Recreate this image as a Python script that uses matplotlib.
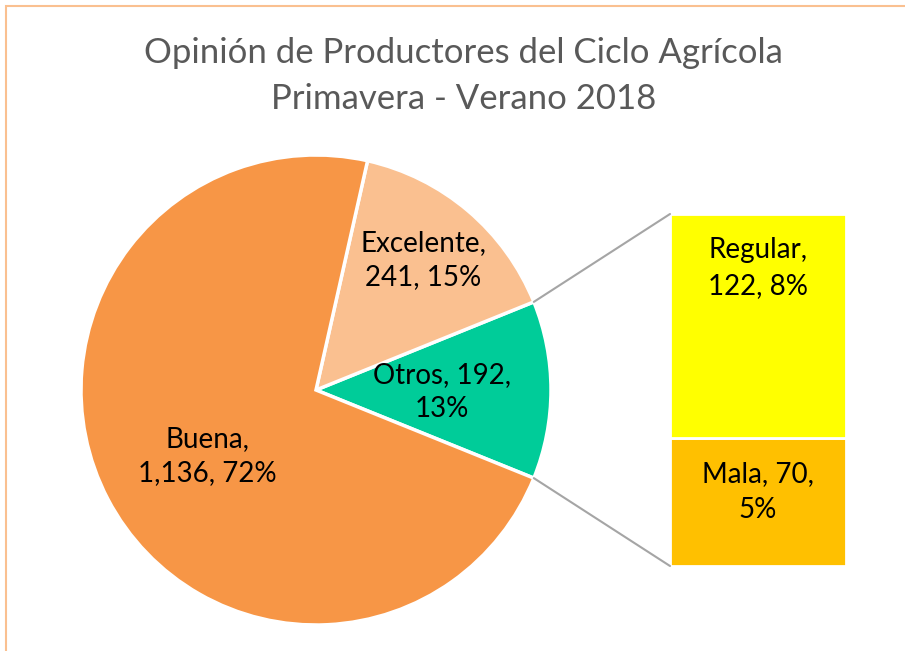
import matplotlib.pyplot as plt
from matplotlib.patches import Rectangle, ConnectionPatch
import numpy as np

plt.rcParams['font.family'] = ['Lato', 'DejaVu Sans']

title = "Opinión de Productores del Ciclo Agrícola\nPrimavera - Verano 2018"

# pie part (Otros = Regular + Mala, split out in the bar)
pie_labels = ["Otros", "Excelente", "Buena"]
pie_values = [192, 241, 1136]
pie_pcts = ["13%", "15%", "72%"]
pie_colors = ["#00CC99", "#FAC090", "#F79646"]

bar_labels = ["Mala", "Regular"]
bar_values = [70, 122]
bar_pcts = ["5%", "8%"]
bar_colors = ["#FFC000", "#FFFF00"]

W, H = 905, 651
fig = plt.figure(figsize=(W / 100, H / 100), dpi=100)
ax = fig.add_axes([0, 0, 1, 1])

# chart border (cut at right/bottom like the screenshot)
fig.patches.append(Rectangle((5.5 / W, -0.1), 1.2, 1.1 - 5.5 / H,
                             transform=fig.transFigure, fill=False,
                             edgecolor="#FAC090", linewidth=1.5))

cx, cy, r = 316, H - 390, 235
total = sum(pie_values)
start = -pie_values[0] / total * 180
wedges, _ = ax.pie(pie_values, colors=pie_colors, startangle=start,
                   counterclock=True, center=(cx, cy), radius=r,
                   wedgeprops=dict(edgecolor="white", linewidth=2.5),
                   frame=True)
ax.set_xlim(0, W)
ax.set_ylim(0, H)
ax.set_aspect('equal')
ax.axis('off')

pie_text_pos = [(442, 392), (423, 260), (207, 456)]
pie_texts = ["Otros, {},\n{}", "Excelente,\n{}, {}", "Buena,\n{}, {}"]
for (x, y), fmt, v, p in zip(pie_text_pos, pie_texts, pie_values, pie_pcts):
    ax.text(x, H - y, fmt.format(f"{v:,}", p), ha='center', va='center',
            fontsize=20, color="black", linespacing=1.38)

ax.text(W / 2 + 11, H - 76, title, ha='center', va='center', fontsize=25,
        color="#595959", linespacing=1.55)

# bar of the "Otros" slice
bx0, by0, bw, bh = 670, 566, 176, 352
bax = fig.add_axes([bx0 / W, (H - by0) / H, bw / W, bh / H])
bottom = 0
for v, c in zip(bar_values, bar_colors):
    bax.bar(0, v, width=1, bottom=bottom, color=c, edgecolor="white",
            linewidth=2)
    bottom += v
bax.set_xlim(-0.5, 0.5)
bax.set_ylim(0, sum(bar_values))
bax.axis('off')

bar_text = ["Mala, {},\n{}", "Regular,\n{}, {}"]
bottom = 0
for fmt, v, p in zip(bar_text, bar_values, bar_pcts):
    bax.text(0, bottom + v - 23 * sum(bar_values) / bh, fmt.format(v, p),
             ha='center', va='top', fontsize=20, color="black",
             linespacing=1.5)
    bottom += v

# connector lines
theta = np.deg2rad(pie_values[0] / total * 180)
for sgn, yb in [(1, 1), (-1, 0)]:
    px = cx + r * np.cos(theta)
    py = cy + sgn * r * np.sin(theta)
    con = ConnectionPatch(xyA=(px, py), coordsA=ax.transData,
                          xyB=(-0.5, sum(bar_values) * yb), coordsB=bax.transData,
                          color="#A5A5A5", linewidth=1.5)
    fig.add_artist(con)

fig.savefig("out.png", dpi=100)
